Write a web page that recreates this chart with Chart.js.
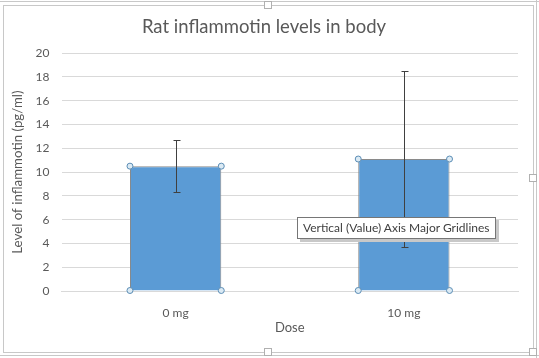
<!DOCTYPE html>
<html><head><meta charset="utf-8">
<script src="https://cdn.jsdelivr.net/npm/chart.js@4"></script>
<style>
html,body{margin:0;padding:0;background:#fff;}
#wrap{position:relative;width:539px;height:358px;overflow:hidden;}
#c{position:absolute;left:0;top:0;}
.frame{position:absolute;left:3px;top:5px;width:529px;height:346px;border:1px solid #c8c8c8;pointer-events:none;}
.xl{position:absolute;background:#c8c8c8;}
.hd{position:absolute;width:6px;height:6px;background:#fff;border:1px solid #b0b0b0;}
#tip{position:absolute;left:297px;top:217px;padding:2px 5px 3px 5px;border:1px solid #767676;background:#fff;
 font:12px Lato, "Liberation Sans", sans-serif;color:#404040;white-space:nowrap;box-shadow:3px 3px 0 #c8c8c8;}
</style></head>
<body><div id="wrap">
<div class="xl" style="left:0;top:1px;width:539px;height:1px"></div>
<div class="xl" style="left:0;top:355px;width:539px;height:1px"></div>
<div class="xl" style="left:536px;top:0;width:1px;height:358px"></div>
<canvas id="c" width="539" height="358"></canvas>
<div class="frame"></div>
<div class="hd" style="left:264px;top:1px"></div>
<div class="hd" style="left:264px;top:348px"></div>
<div class="hd" style="left:529px;top:174px"></div>
<div class="hd" style="left:529px;top:348px"></div>
<div id="tip">Vertical (Value) Axis Major Gridlines</div>
</div>
<script>
const categories = ["0 mg", "10 mg"];
const means = [10.5, 11.1];
const errors = [2.2, 7.4];
const yTicks = [0, 2, 4, 6, 8, 10, 12, 14, 16, 18, 20];
const titleText = "Rat inflammotin levels in body";
const yTitle = "Level of inflammotin (pg/ml)";
const xTitle = "Dose";

const FONT = "Lato, 'Liberation Sans', sans-serif";
const TXT = "#595959";

const extras = {
  id: "extras",
  afterDatasetsDraw(chart) {
    const ctx = chart.ctx;
    const y = chart.scales.y;
    const meta = chart.getDatasetMeta(0);
    ctx.save();
    meta.data.forEach((bar, i) => {
      const x = bar.x;
      const top = y.getPixelForValue(means[i] + errors[i]);
      const bot = y.getPixelForValue(means[i] - errors[i]);
      ctx.strokeStyle = "#404040";
      ctx.lineWidth = 1;
      ctx.beginPath();
      const xx = Math.round(x) + 0.5;
      ctx.moveTo(xx, Math.round(top) + 0.5); ctx.lineTo(xx, Math.round(bot) + 0.5);
      ctx.moveTo(xx - 3, Math.round(top) + 0.5); ctx.lineTo(xx + 4, Math.round(top) + 0.5);
      ctx.moveTo(xx - 3, Math.round(bot) + 0.5); ctx.lineTo(xx + 4, Math.round(bot) + 0.5);
      ctx.stroke();
      const hw = bar.width / 2;
      const pts = [[x - hw, bar.y], [x + hw, bar.y], [x - hw, bar.base], [x + hw, bar.base]];
      pts.forEach(p => {
        ctx.beginPath();
        ctx.arc(p[0], p[1], 3, 0, Math.PI * 2);
        ctx.fillStyle = "#dbeaf4";
        ctx.fill();
        ctx.strokeStyle = "#5b8db5";
        ctx.lineWidth = 1;
        ctx.stroke();
      });
    });
    ctx.restore();
  }
};

new Chart(document.getElementById("c"), {
  type: "bar",
  data: {
    labels: categories,
    datasets: [{
      data: means,
      backgroundColor: "#5b9bd5",
      borderColor: "#8a8a8a",
      borderWidth: 1,
      barPercentage: 1,
      categoryPercentage: 0.4
    }]
  },
  options: {
    responsive: false,
    animation: false,
    events: [],
    layout: { padding: { left: 10, right: 21, top: 0, bottom: 22 } },
    plugins: {
      legend: { display: false },
      tooltip: { enabled: false },
      title: {
        display: true, text: titleText, color: TXT,
        font: { family: FONT, size: 18.5, weight: "normal" },
        padding: { top: 16, bottom: 15 }
      }
    },
    scales: {
      x: {
        grid: { display: false },
        border: { display: true, color: "#d9d9d9" },
        ticks: { color: TXT, font: { family: FONT, size: 12 }, padding: 7 },
        title: { display: true, text: xTitle, color: TXT, font: { family: FONT, size: 13 }, padding: { top: 6, bottom: 0 } },
        afterFit(s) { s.height = 45; }
      },
      y: {
        min: 0, max: 20,
        afterBuildTicks(s) { s.ticks = yTicks.map(v => ({ value: v })); },
        grid: { color: "#d9d9d9", drawTicks: false },
        border: { display: false },
        ticks: { color: TXT, font: { family: FONT, size: 12 }, padding: 12 },
        title: { display: true, text: yTitle, color: TXT, font: { family: FONT, size: 13.3 }, padding: { top: 0, bottom: 4 } },
        afterFit(s) { s.width = 51.5; }
      }
    }
  },
  plugins: [extras]
});
</script>
</body></html>
